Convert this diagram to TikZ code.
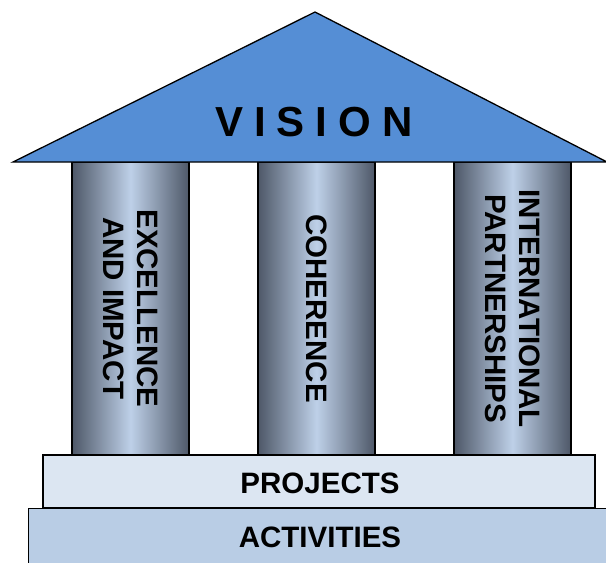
\documentclass[tikz,border=0pt]{standalone}
\usepackage{fontspec}
\setmainfont{Liberation Sans}
\definecolor{roofblue}{RGB}{85,142,213}
\definecolor{projfill}{RGB}{220,230,242}
\definecolor{actfill}{RGB}{185,205,229}
\definecolor{pillaredge}{RGB}{78,88,104}
\definecolor{pillarlight}{RGB}{190,208,232}
\newcommand{\spaced}{\kern11pt}

\begin{document}
\begin{tikzpicture}[x=1pt, y=-1pt,
    slab/.style={draw, line width=1.3pt, inner sep=0pt},
    pillar/.style={draw, line width=1.3pt, rotate=-90, inner sep=0pt,
      minimum width=293pt, minimum height=117pt, align=center,
      left color=pillaredge, right color=pillaredge, middle color=pillarlight,
      font=\bfseries\fontsize{29.5}{34}\selectfont},
    label/.style={font=\bfseries\fontsize{29.5}{30}\selectfont}]
    \clip (0,0) rectangle (606,563);

    \node[slab, fill=actfill, anchor=north west, minimum width=600pt, minimum height=70pt] at (28,508) (act) {};
    \node[label] at (320,537) (actlbl) {ACTIVITIES};
    \node[slab, fill=projfill, minimum width=552pt, minimum height=53pt] at (319,481.5) (proj) {};
    \node[label] at (320,483) (projlbl) {PROJECTS};

    \node[pillar] at (130.5,308.5) (exc) {EXCELLENCE\\AND IMPACT};
    \node[pillar] at (316.5,308.5) (coh) {COHERENCE};
    \node[pillar] at (512.5,308.5) (intl) {INTERNATIONAL\\PARTNERSHIPS};

    \coordinate (roofL) at (13,162);
    \coordinate (roofT) at (315,12);
    \coordinate (roofR) at (607,162);
    \draw[fill=roofblue, line width=1.3pt, line join=miter] (roofL) -- (roofT) -- (roofR) -- cycle;
    \node[font=\bfseries\fontsize{42}{42}\selectfont] at (314,122) (vision)
      {V\spaced I\spaced S\spaced I\spaced O\spaced N};
\end{tikzpicture}
\end{document}
